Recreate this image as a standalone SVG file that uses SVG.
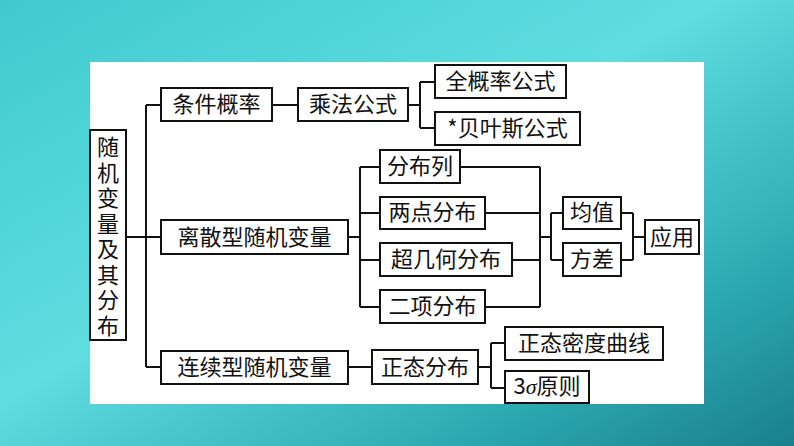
<svg xmlns="http://www.w3.org/2000/svg" width="794" height="446" viewBox="0 0 794 446">
<defs>
<linearGradient id="bg" x1="0" y1="0" x2="1" y2="1">
<stop offset="0" stop-color="#3fc9cf"/><stop offset="0.45" stop-color="#5fdde0"/><stop offset="0.8" stop-color="#2aa6b0"/><stop offset="1" stop-color="#1a7f8c"/>
</linearGradient>
<style>
.b{fill:#fff;stroke:#111;stroke-width:2}
.t{font-family:"Noto Sans CJK SC","Noto Sans",sans-serif;font-size:22px;fill:#111}
.c{fill:none;stroke:#111;stroke-width:2}
</style>
</defs>
<rect width="794" height="446" fill="url(#bg)"/>
<rect x="90" y="62" width="614" height="342" fill="#fff"/>
<g id="connectors" class="c">
<path d="M126 237H146M146 105V367M146 105H161M146 237H161M146 367H161"/>
<path d="M272 105H298M408 105H420M420 82V128M420 82H435M420 128H435"/>
<path d="M348 237H360M360 167V307M360 167H380M360 213H380M360 260H380M360 307H380"/>
<path d="M460 167H540M485 213H540M512 260H540M485 307H540M540 167V307M540 237H551M551 213V260M551 213H563M551 260H563"/>
<path d="M621 213H633M621 260H633M633 213V260M633 237H645"/>
<path d="M348 367H372M478 367H491M491 343V388M491 343H505M491 388H505"/>
</g>
<g id="root"><rect class="b" x="90" y="130" width="36" height="210"/>
<text class="t" x="108" y="155" text-anchor="middle" font-size="23"><tspan x="108">随</tspan><tspan x="108" dy="25.5">机</tspan><tspan x="108" dy="25.5">变</tspan><tspan x="108" dy="25.5">量</tspan><tspan x="108" dy="25.5">及</tspan><tspan x="108" dy="25.5">其</tspan><tspan x="108" dy="25.5">分</tspan><tspan x="108" dy="25.5">布</tspan></text></g>
<g id="n1"><rect class="b" x="161" y="88" width="111" height="33"/><text class="t" x="216.5" y="112" text-anchor="middle">条件概率</text></g>
<g id="n2"><rect class="b" x="298" y="88" width="110" height="33"/><text class="t" x="353" y="112" text-anchor="middle">乘法公式</text></g>
<g id="n3"><rect class="b" x="435" y="65" width="131" height="33"/><text class="t" x="500.5" y="89" text-anchor="middle">全概率公式</text></g>
<g id="n4"><rect class="b" x="435" y="112" width="145" height="33"/><text class="t" x="507.5" y="136" text-anchor="middle">*贝叶斯公式</text></g>
<g id="n5"><rect class="b" x="161" y="220" width="187" height="34"/><text class="t" x="254.5" y="245" text-anchor="middle">离散型随机变量</text></g>
<g id="n6"><rect class="b" x="380" y="150" width="80" height="33"/><text class="t" x="420" y="174" text-anchor="middle">分布列</text></g>
<g id="n7"><rect class="b" x="380" y="197" width="105" height="32"/><text class="t" x="432.5" y="220" text-anchor="middle">两点分布</text></g>
<g id="n8"><rect class="b" x="380" y="243" width="132" height="33"/><text class="t" x="446" y="267" text-anchor="middle">超几何分布</text></g>
<g id="n9"><rect class="b" x="380" y="290" width="105" height="33"/><text class="t" x="432.5" y="314" text-anchor="middle">二项分布</text></g>
<g id="n10"><rect class="b" x="563" y="197" width="58" height="32"/><text class="t" x="592" y="220" text-anchor="middle">均值</text></g>
<g id="n11"><rect class="b" x="563" y="243" width="58" height="33"/><text class="t" x="592" y="267" text-anchor="middle">方差</text></g>
<g id="n12"><rect class="b" x="645" y="220" width="54" height="34"/><text class="t" x="672" y="245" text-anchor="middle">应用</text></g>
<g id="n13"><rect class="b" x="161" y="351" width="187" height="33"/><text class="t" x="254.5" y="375" text-anchor="middle">连续型随机变量</text></g>
<g id="n14"><rect class="b" x="372" y="350" width="106" height="34"/><text class="t" x="425" y="375" text-anchor="middle">正态分布</text></g>
<g id="n15"><rect class="b" x="505" y="327" width="158" height="33"/><text class="t" x="584" y="351" text-anchor="middle">正态密度曲线</text></g>
<g id="n16"><rect class="b" x="505" y="371" width="84" height="32"/><text class="t" x="547" y="394" text-anchor="middle">3<tspan font-style="italic" font-family="Liberation Serif,serif">σ</tspan>原则</text></g>
</svg>
